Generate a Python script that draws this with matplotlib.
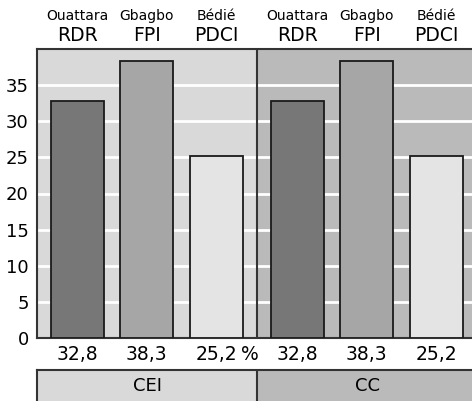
import numpy as np
import matplotlib
matplotlib.use("Agg")
from matplotlib import pyplot as plt

# data
groups = ["CEI", "CC"]
parties = ["RDR", "FPI", "PDCI"]
leaders = ["Ouattara", "Gbagbo", "Bédié"]
values_cei = [32.8, 38.3, 25.2]
values_cc = [32.8, 38.3, 25.2]
value_labels = ["32,8", "38,3", "25,2"]
yticks = [0, 5, 10, 15, 20, 25, 30, 35]

bar_colors = ["#777777", "#a6a6a6", "#e4e4e4"]
bg_colors = ["#d9d9d9", "#bababa"]

plt.rcParams['font.family'] = ['DejaVu Sans']
fig = plt.figure(figsize=(4.72, 4.01), dpi=100)

W = 3.165  # width of one group panel
ax = fig.add_axes([37/472, 63/401, 440/472, 289/401])
ax.set_xlim(0, 2*W)
ax.set_ylim(0, 40)

for g, vals in enumerate([values_cei, values_cc]):
    x0 = g*W
    ax.axvspan(x0, x0+W, color=bg_colors[g], zorder=0, lw=0)
    xs = x0 + 0.58 + np.arange(3)
    ax.bar(xs, vals, width=0.76, color=bar_colors, edgecolor="#1a1a1a",
           linewidth=1.3, zorder=3)
    for i, x in enumerate(xs):
        ax.text(x, -2.3, value_labels[i], ha="center", va="center",
                fontsize=13.5, clip_on=False)
        ax.text(x, 44.6, leaders[i], ha="center", va="center",
                fontsize=10, clip_on=False)
        ax.text(x, 41.9, parties[i], ha="center", va="center",
                fontsize=13.5, clip_on=False)

ax.text(3.06, -2.3, "%", ha="center", va="center", fontsize=13.5, clip_on=False)

for y in yticks[1:]:
    ax.axhline(y, color="white", linewidth=2, zorder=1)
ax.axvline(W, color="#333333", linewidth=1.5, zorder=4)

ax.set_yticks(yticks)
ax.set_yticklabels([str(t) for t in yticks], fontsize=13)
ax.tick_params(axis="y", length=0, pad=6)
ax.set_xticks([])
for s in ["left", "top", "bottom"]:
    ax.spines[s].set_color("#333333")
    ax.spines[s].set_linewidth(1.5)
ax.spines["right"].set_visible(False)

# bottom band with group names
ax2 = fig.add_axes([37/472, -0.02, 440/472, 39/401])
ax2.set_xlim(0, 2*W)
ax2.set_ylim(0, 1)
for g in range(2):
    ax2.axvspan(g*W, (g+1)*W, color=bg_colors[g], lw=0)
    ax2.text(g*W + W/2, 0.6, groups[g], ha="center", va="center", fontsize=13)
ax2.axvline(W, color="#333333", linewidth=1.5)
ax2.set_xticks([])
ax2.set_yticks([])
for s in ["left", "top"]:
    ax2.spines[s].set_color("#333333")
    ax2.spines[s].set_linewidth(1.5)
ax2.spines["right"].set_visible(False)
ax2.spines["bottom"].set_visible(False)

plt.savefig("out.png", dpi=100)
